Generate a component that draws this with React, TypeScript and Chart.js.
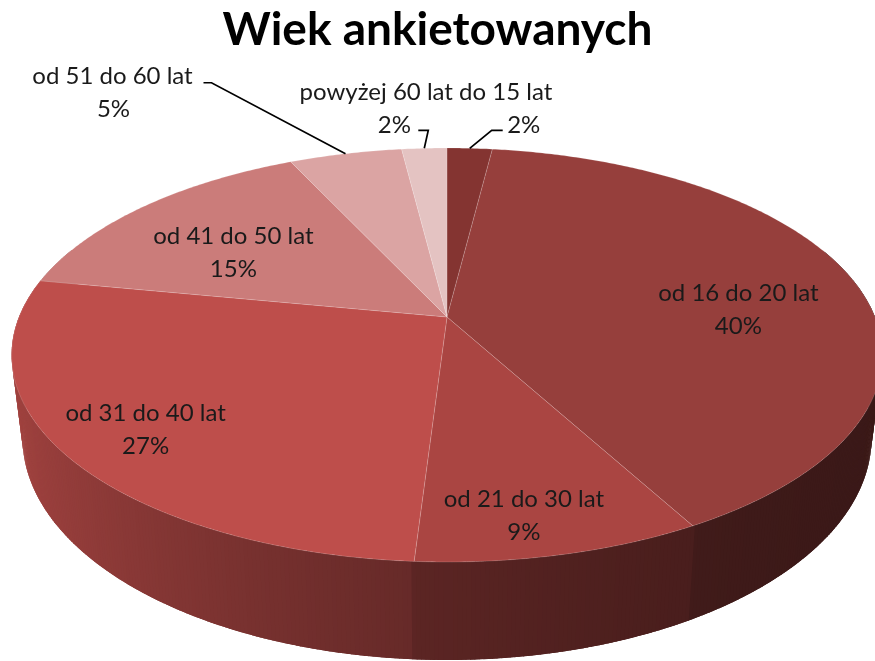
import React, { useEffect, useRef } from 'react';
import { Chart, registerables } from 'chart.js';

Chart.register(...registerables);

const TITLE = 'Wiek ankietowanych';
const categories = [
  'do 15 lat',
  'od 16 do 20 lat',
  'od 21 do 30 lat',
  'od 31 do 40 lat',
  'od 41 do 50 lat',
  'od 51 do 60 lat',
  'powyżej 60 lat',
];
const values = [2, 40, 9, 27, 15, 5, 2];
const sliceColors = ['#843431', '#963f3c', '#aa4542', '#be4e4b', '#cb7c7a', '#dba4a3', '#e4c3c2'];

// label placement (inside labels: radius fraction + pixel shift)
const labelRadius = [0, 0.71, 0.86, 0.81, 0.68, 0, 0];
const labelShift = [[0, 0], [0, 19], [-18, 0], [0, 4], [0, 13], [0, 0], [0, 0]];
// outside labels: offsets from the rim anchor for line 1, line 2, leader start, leader elbow
const outsideLabels: Record<number, { l1: number[]; l2: number[]; start: number[]; elbow: number[] }> = {
  0: { l1: [36, -56], l2: [54, -23], start: [33, -18], elbow: [22, -18] },
  5: { l1: [-233, -77], l2: [-232, -44], start: [-142, -71], elbow: [-134, -71] },
  6: { l1: [-48, -56], l2: [-30, -23], start: [-6, -18], elbow: [4, -18] },
};

// 3D projection geometry
const CX = 447;
const CY = 317;
const RX = 428;
const RX_BOTTOM_SCALE = 0.975;
const RY = 200;
const PERSP = -0.1836;
const DEPTH = 80;
const LABEL_FONT = '24px Lato';
const LINE_GAP = 33;

function proj(theta: number, r: number, bottom: boolean) {
  const X = r * Math.cos(theta);
  const Z = r * Math.sin(theta);
  const d = 1 + PERSP * Z;
  const rx = bottom ? RX * RX_BOTTOM_SCALE : RX;
  return { x: CX + (rx * X) / d, y: CY + (RY * Z + (bottom ? DEPTH : 0)) / d };
}

function hexRgb(h: string) {
  const n = parseInt(h.slice(1), 16);
  return [(n >> 16) & 255, (n >> 8) & 255, n & 255];
}

function shade(hex: string, theta: number) {
  const f = 0.39 + 0.47 * Math.pow((1 - Math.cos(theta)) / 2, 1.8);
  const [r, g, b] = hexRgb(hex);
  return `rgb(${Math.round(r * f)},${Math.round(g * f)},${Math.round(b * f)})`;
}

const pie3d = {
  id: 'pie3d',
  beforeDatasetsDraw(chart: any) {
    const ctx: CanvasRenderingContext2D = chart.ctx;
    const meta = chart.getDatasetMeta(0);
    const arcs = meta.data as any[];
    const step = Math.PI / 360;

    // sides
    const quads: { m: number; color: string; t1: number; t2: number }[] = [];
    arcs.forEach((arc, i) => {
      const s = arc.startAngle;
      const e = arc.endAngle;
      const n = Math.max(1, Math.ceil((e - s) / step));
      for (let k = 0; k < n; k++) {
        const t1 = s + ((e - s) * k) / n;
        const t2 = s + ((e - s) * (k + 1)) / n;
        const mid = (t1 + t2) / 2;
        if (Math.sin(mid) < -0.35) continue;
        quads.push({ m: Math.sin(mid), color: shade(sliceColors[i], mid), t1, t2 });
      }
    });
    quads.sort((a, b) => a.m - b.m);
    ctx.save();
    for (const q of quads) {
      const pad = (q.t2 - q.t1) * 0.6;
      const t1 = q.t1 - pad;
      const t2 = q.t2 + pad;
      const a = proj(t1, 1, false);
      const b = proj(t2, 1, false);
      const c = proj(t2, 1, true);
      const d = proj(t1, 1, true);
      ctx.beginPath();
      ctx.moveTo(a.x, a.y);
      ctx.lineTo(b.x, b.y);
      ctx.lineTo(c.x, c.y);
      ctx.lineTo(d.x, d.y);
      ctx.closePath();
      ctx.fillStyle = q.color;
      ctx.fill();
    }

    // top surface
    arcs.forEach((arc, i) => {
      const s = arc.startAngle;
      const e = arc.endAngle;
      const n = Math.max(2, Math.ceil((e - s) / step));
      const c0 = proj(0, 0, false);
      ctx.beginPath();
      ctx.moveTo(c0.x, c0.y);
      for (let k = 0; k <= n; k++) {
        const p = proj(s + ((e - s) * k) / n, 1, false);
        ctx.lineTo(p.x, p.y);
      }
      ctx.closePath();
      ctx.fillStyle = sliceColors[i];
      ctx.fill();
      ctx.strokeStyle = 'rgba(255,255,255,0.15)';
      ctx.lineWidth = 1;
      ctx.stroke();
    });

    // labels
    const total = values.reduce((a, b) => a + b, 0);
    ctx.font = LABEL_FONT;
    ctx.fillStyle = '#1a1a1a';
    ctx.textAlign = 'center';
    ctx.textBaseline = 'middle';
    arcs.forEach((arc, i) => {
      const mid = (arc.startAngle + arc.endAngle) / 2;
      const pct = Math.round((values[i] / total) * 100) + '%';
      const out = outsideLabels[i];
      if (out) {
        const a = proj(mid, 1, false);
        ctx.fillText(categories[i], a.x + out.l1[0], a.y + out.l1[1]);
        ctx.fillText(pct, a.x + out.l2[0], a.y + out.l2[1]);
        ctx.beginPath();
        ctx.moveTo(a.x + out.start[0], a.y + out.start[1]);
        ctx.lineTo(a.x + out.elbow[0], a.y + out.elbow[1]);
        ctx.lineTo(a.x, a.y);
        ctx.strokeStyle = '#000';
        ctx.lineWidth = 1.7;
        ctx.lineJoin = 'miter';
        ctx.stroke();
      } else {
        const p = proj(mid, labelRadius[i], false);
        const x = p.x + labelShift[i][0];
        const y = p.y + labelShift[i][1];
        ctx.fillText(categories[i], x, y - LINE_GAP / 2);
        ctx.fillText(pct, x, y + LINE_GAP / 2);
      }
    });
    ctx.restore();
    return false;
  },
};

export default function App() {
  const ref = useRef<HTMLCanvasElement>(null);
  useEffect(() => {
    document.body.style.margin = '0';
    const chart = new Chart(ref.current as HTMLCanvasElement, {
      type: 'pie',
      data: {
        labels: categories,
        datasets: [{ data: values, backgroundColor: sliceColors, borderWidth: 0 }],
      },
      options: {
        animation: false,
        responsive: true,
        maintainAspectRatio: false,
        events: [],
        plugins: {
          legend: { display: false },
          tooltip: { enabled: false },
          title: {
            display: true,
            text: TITLE,
            color: '#000',
            font: { family: 'Lato', size: 46, weight: 'bold' },
            padding: { top: 3, bottom: 0 },
          },
        },
      },
      plugins: [pie3d],
    });
    return () => chart.destroy();
  }, []);
  return (
    <div style={{ position: 'relative', width: 875, height: 661, background: '#fff' }}>
      <canvas ref={ref} />
    </div>
  );
}
